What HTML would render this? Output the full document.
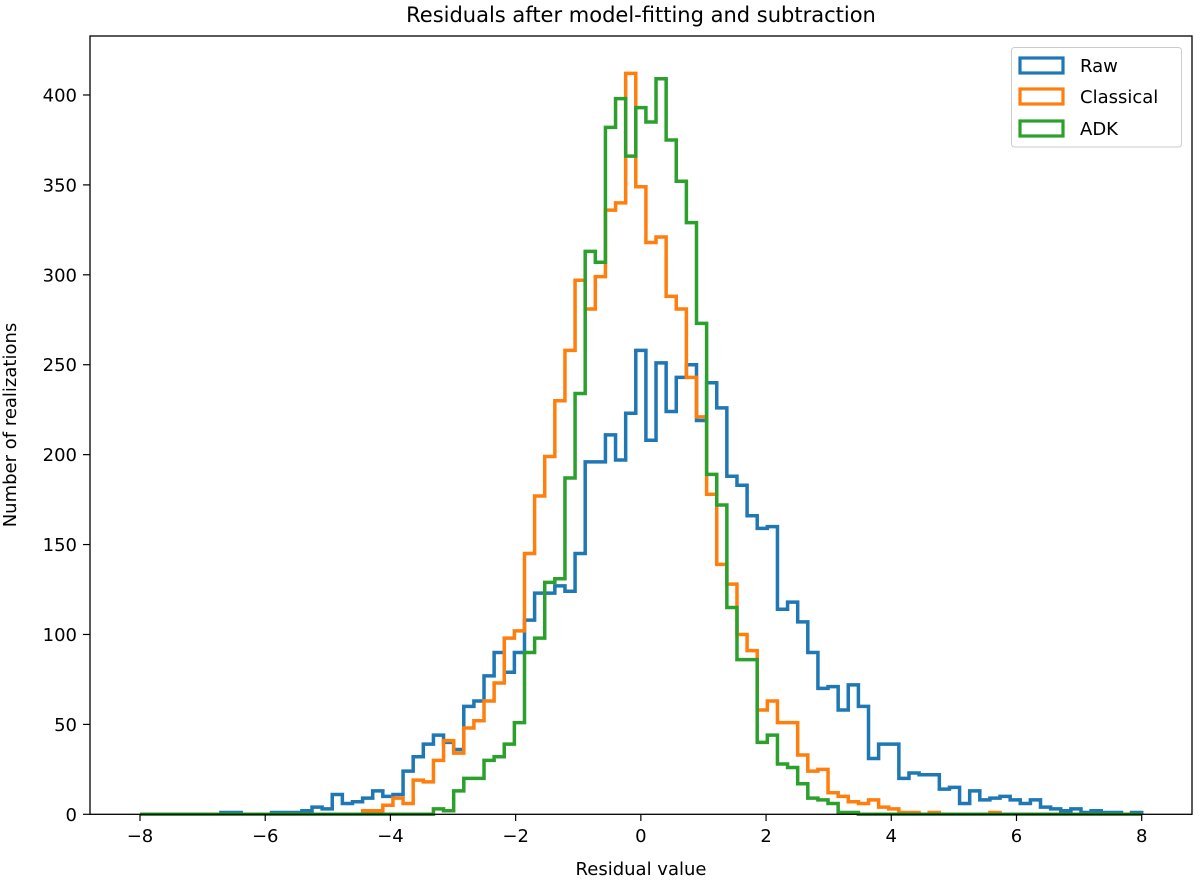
<!DOCTYPE html>
<html><head><meta charset="utf-8"><style>
html,body{margin:0;padding:0;background:#fff;}
svg{display:block;font-family:"DejaVu Sans","Liberation Sans",sans-serif;}
</style></head><body>
<svg id="chart" width="1200" height="882" viewBox="0 0 1200 882" xmlns="http://www.w3.org/2000/svg">
<rect width="1200" height="882" fill="#fff"/>
<text x="641" y="22" font-size="21" text-anchor="middle">Residuals after model-fitting and subtraction</text>
<g id="series"></g>
<g id="axes"></g>
<rect x="90" y="36" width="1102" height="778.3" fill="none" stroke="#000" stroke-width="1.3"/>
<text x="641" y="875" font-size="18" text-anchor="middle">Residual value</text>
<text transform="translate(16,425) rotate(-90)" font-size="18" text-anchor="middle">Number of realizations</text>
<g>
<rect x="1011.5" y="47.5" width="170" height="99.5" rx="3" fill="#fff" stroke="#ccc" stroke-width="1"/>
<rect x="1020" y="58" width="43" height="15" fill="none" stroke="#1f77b4" stroke-width="3.2"/>
<text x="1080" y="72" font-size="18">Raw</text>
<rect x="1020" y="89" width="43" height="15" fill="none" stroke="#ff7f0e" stroke-width="3.2"/>
<text x="1080" y="103" font-size="18">Classical</text>
<rect x="1020" y="121" width="43" height="15" fill="none" stroke="#2ca02c" stroke-width="3.2"/>
<text x="1080" y="135" font-size="18">ADK</text>
</g>
</svg>
<script>
const binStart = -8;
const binEnd = 8;
const rawCounts = [0,0,0,0,0,0,0,0,1,1,0,0,0,1,1,1,2,4,3,11,6,7,9,13,10,11,24,32,39,44,40,36,60,63,77,90,79,90,108,123,123,127,124,145,196,196,211,197,223,258,208,251,224,243,250,219,240,226,188,183,166,159,160,114,118,107,90,70,71,58,72,60,31,39,39,20,23,22,22,14,15,6,13,8,9,10,8,6,8,4,3,2,3,1,2,1,1,0,1];
const classicalCounts = [0,0,0,0,0,0,0,0,0,0,0,0,0,0,0,0,0,0,0,0,0,0,2,2,5,9,6,19,18,30,41,34,48,52,63,73,98,102,145,177,199,230,258,297,281,299,336,340,412,349,318,321,288,281,243,221,178,139,128,100,91,58,63,51,51,33,24,25,12,10,7,6,8,4,3,1,1,0,1,0,0,0,0,0,1,0,0,0,0,0,0,0,0,0,0,0,0,0,0];
const adkCounts = [0,0,0,0,0,0,0,0,0,0,0,0,0,0,0,0,0,0,0,0,0,0,0,0,0,0,0,0,0,3,2,13,20,20,30,32,39,51,90,98,129,131,187,234,313,307,382,398,366,393,385,409,375,352,329,273,189,172,115,86,86,40,44,28,26,17,9,8,6,1,1,0,0,0,0,0,0,0,0,0,0,0,0,0,0,0,0,0,0,0,0,0,0,0,0,0,0,0,0];
const xTicks = [-8,-6,-4,-2,0,2,4,6,8];
const yTicks = [0,50,100,150,200,250,300,350,400];
const seriesNames = ["raw","classical","adk"];
const seriesColors = ["#1f77b4","#ff7f0e","#2ca02c"];

const NS = "http://www.w3.org/2000/svg";
function xs(v){ return 140 + (v + 8) * (1001.7 / 16); }
function ys(v){ return 814.3 - v * 1.7983; }

const axes = document.getElementById('axes');
xTicks.forEach(t => {
  const l = document.createElementNS(NS,'line');
  
  
  l.setAttribute('x1', xs(t)); l.setAttribute('x2', xs(t));
  l.setAttribute('y1', 814.3); l.setAttribute('y2', 821);
  l.setAttribute('stroke', '#000'); l.setAttribute('stroke-width', '1.2');
  axes.appendChild(l);
  const tx = document.createElementNS(NS,'text');
  
  
  tx.setAttribute('x', xs(t)); tx.setAttribute('y', 842);
  tx.setAttribute('font-size', '18'); tx.setAttribute('text-anchor', 'middle');
  tx.textContent = (t < 0 ? '\u2212' + (-t) : String(t));
  axes.appendChild(tx);
});
yTicks.forEach(t => {
  const l = document.createElementNS(NS,'line');
  
  
  l.setAttribute('x1', 83); l.setAttribute('x2', 90);
  l.setAttribute('y1', ys(t)); l.setAttribute('y2', ys(t));
  l.setAttribute('stroke', '#000'); l.setAttribute('stroke-width', '1.2');
  axes.appendChild(l);
  const tx = document.createElementNS(NS,'text');
  
  
  tx.setAttribute('x', 77); tx.setAttribute('y', ys(t) + 6.5);
  tx.setAttribute('font-size', '18'); tx.setAttribute('text-anchor', 'end');
  tx.textContent = String(t);
  axes.appendChild(tx);
});

const series = document.getElementById('series');
[rawCounts, classicalCounts, adkCounts].forEach((counts, si) => {
  const n = counts.length;
  const w = (binEnd - binStart) / n;
  let d = 'M' + xs(binStart) + ' ' + ys(0);
  for (let i = 0; i < n; i++) {
    d += ' L' + xs(binStart + i * w) + ' ' + ys(counts[i]);
    d += ' L' + xs(binStart + (i + 1) * w) + ' ' + ys(counts[i]);
  }
  d += ' L' + xs(binEnd) + ' ' + ys(0);
  const p = document.createElementNS(NS,'path');
  
  
  p.setAttribute('d', d);
  p.setAttribute('fill', 'none');
  p.setAttribute('stroke', seriesColors[si]);
  p.setAttribute('stroke-width', '3.5');
  p.setAttribute('stroke-linejoin', 'miter');
  series.appendChild(p);
});
</script>
</body></html>
